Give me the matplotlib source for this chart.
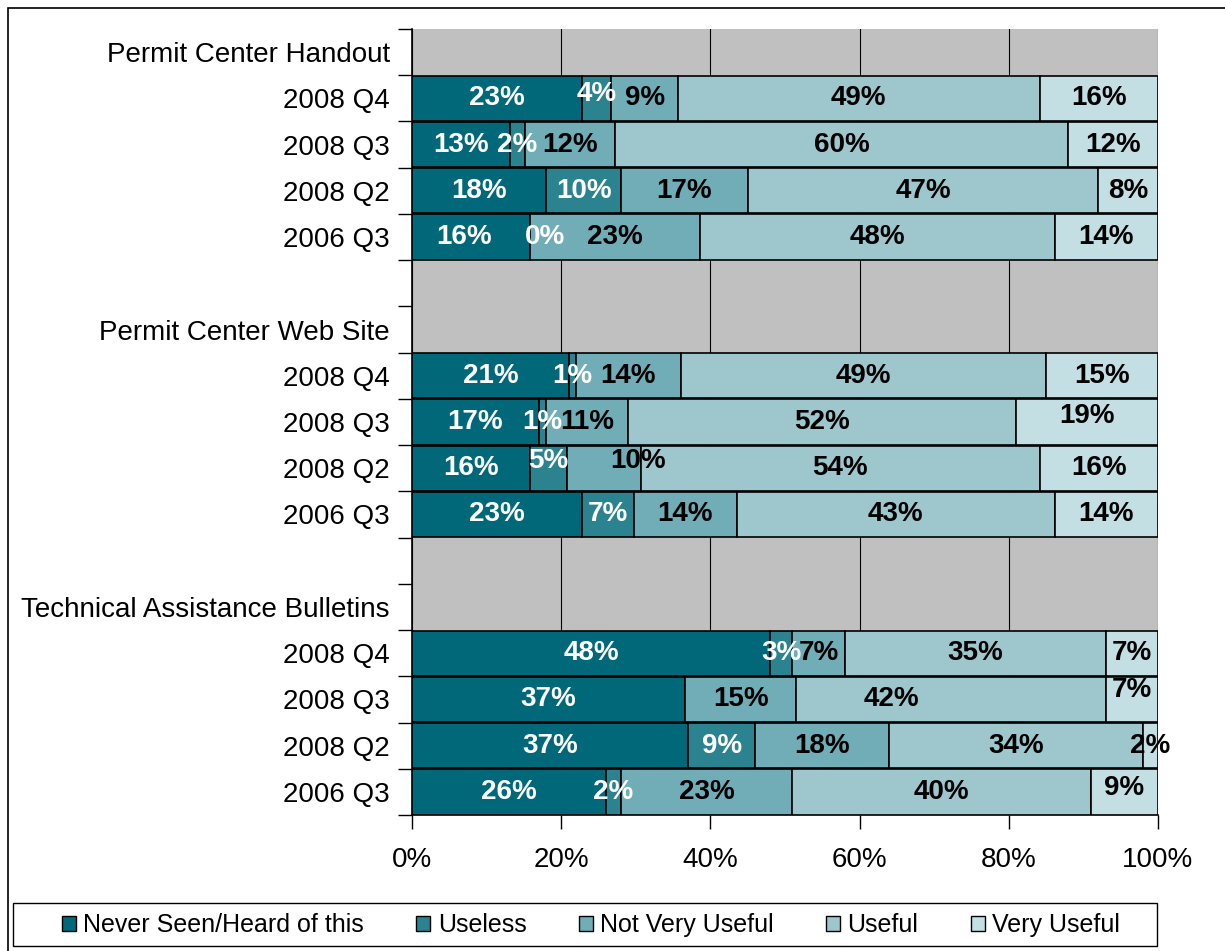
import numpy as np
import matplotlib
matplotlib.use("Agg")
import matplotlib.pyplot as plt
from matplotlib.patches import Rectangle, Patch

plt.rcParams['font.family'] = ['Liberation Sans', 'DejaVu Sans']

# row labels, top to bottom (headers and blank rows included)
row_labels = ["Permit Center Handout", "2008 Q4", "2008 Q3", "2008 Q2", "2006 Q3", "",
              "Permit Center Web Site", "2008 Q4", "2008 Q3", "2008 Q2", "2006 Q3", "",
              "Technical Assistance Bulletins", "2008 Q4", "2008 Q3", "2008 Q2", "2006 Q3"]
data_rows = [1, 2, 3, 4, 7, 8, 9, 10, 13, 14, 15, 16]

series_names = ["Never Seen/Heard of this", "Useless", "Not Very Useful", "Useful", "Very Useful"]
never = [23, 13, 18, 16, 21, 17, 16, 23, 48, 37, 37, 26]
useless = [4, 2, 10, 0, 1, 1, 5, 7, 3, np.nan, 9, 2]
not_very = [9, 12, 17, 23, 14, 11, 10, 14, 7, 15, 18, 23]
useful = [49, 60, 47, 48, 49, 52, 54, 43, 35, 42, 34, 40]
very = [16, 12, 8, 14, 15, 19, 16, 14, 7, 7, 2, 9]

colors = ["#006878", "#2a838e", "#70adb7", "#9dc7cd", "#c3dfe3"]
text_colors = ["white", "white", "black", "black", "black"]

# hand-moved labels: (row, series) -> (dx in %, dy in rows)
nudges = {(1, 1): (0, -0.1), (4, 1): (2, 0), (4, 0): (-1, 0),
          (8, 4): (0, -0.12), (9, 1): (0, -0.15), (9, 2): (4.5, -0.15),
          (14, 3): (-8, 0), (14, 4): (0, -0.2), (16, 4): (0, -0.08)}

vals = np.array([never, useless, not_very, useful, very], dtype=float)
totals = np.nansum(vals, axis=0)
shares = np.nan_to_num(vals) / totals * 100

fig = plt.figure(figsize=(12.25, 9.51), dpi=100)
ax = fig.add_axes([412/1225, 1 - 815/951, 746/1225, 786/951])
ax.set_facecolor("#c0c0c0")

left = np.zeros(len(data_rows))
for k in range(5):
    ax.barh(data_rows, shares[k], left=left, height=0.98, color=colors[k],
            edgecolor="black", linewidth=1.2, zorder=3)
    for i, r in enumerate(data_rows):
        if not np.isnan(vals[k, i]):
            dx, dy = nudges.get((r, k), (0, 0))
            ax.text(left[i] + shares[k, i] / 2 + dx, r + dy, "%d%%" % vals[k, i],
                    ha="center", va="center", fontsize=20, fontweight="bold",
                    color=text_colors[k], zorder=5)
    left += shares[k]

ax.set_xlim(0, 100)
ax.set_ylim(16.5, -0.5)
ax.set_xticks([0, 20, 40, 60, 80, 100])
ax.set_xticklabels(["0%", "20%", "40%", "60%", "80%", "100%"], fontsize=20)
ax.xaxis.grid(True, color="black", linewidth=0.8, zorder=0)
ax.set_axisbelow(True)
ax.tick_params(axis="x", length=10, width=1, pad=13)

ax.set_yticks(np.arange(-0.5, 17, 1))
ax.set_yticklabels([])
ax.tick_params(axis="y", which="major", length=10, width=1)
ax.set_yticks(np.arange(17), minor=True)
ax.set_yticklabels(row_labels, minor=True, fontsize=20)
ax.tick_params(axis="y", which="minor", length=0, pad=16)

for s in ["top", "right"]:
    ax.spines[s].set_visible(False)
for s in ["left", "bottom"]:
    ax.spines[s].set_linewidth(1.2)

# legend: fixed box, entries centred inside it
fig.patches.append(Rectangle((13/1225, 5/951), 1144/1225, 43/951, transform=fig.transFigure,
                             fill=False, edgecolor="black", linewidth=1))
handles = [Patch(facecolor=c, edgecolor="black", linewidth=1) for c in colors]
leg = fig.legend(handles, series_names, ncol=5, loc="center",
                 bbox_to_anchor=(591/1225, 26/951),
                 prop={"family": ["Liberation Sans"], "size": 18},
                 frameon=False, handlelength=0.55, handleheight=0.55,
                 handletextpad=0.3, columnspacing=2.1, borderpad=0, borderaxespad=0)

fig.patches.append(Rectangle((8/1225, -0.01), 1.0, 1 - 8/951 + 0.01, transform=fig.transFigure,
                             fill=False, edgecolor="black", linewidth=1.2))

fig.savefig("out.png", dpi=100)
